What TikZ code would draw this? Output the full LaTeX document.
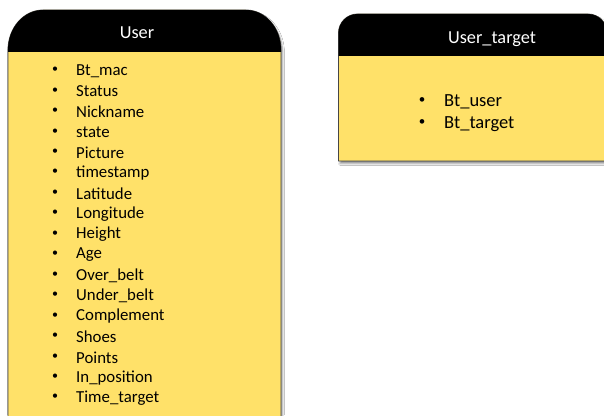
\documentclass[tikz,border=0pt]{standalone}
\usepackage{fontspec}
\setmainfont{Carlito}
\usetikzlibrary{shadows.blur}
\definecolor{notebody}{RGB}{255,225,105}
\definecolor{noteedge}{RGB}{70,70,70}
\tikzset{
  x=1pt, y=1pt,
  body/.style={fill=notebody, draw=noteedge, line width=0.8pt,
    blur shadow={shadow xshift=1.5pt, shadow yshift=-2.5pt, shadow opacity=45, shadow blur steps=4}},
  header/.style={fill=black},
  title/.style={text=white, inner sep=0pt, font=\fontsize{18.3}{22}\selectfont},
  bulletmark/.style={inner sep=0pt, font=\fontsize{12}{14}\selectfont},
  field/.style={anchor=west, inner sep=0pt, font=\fontsize{16.8}{20}\selectfont},
  bigbulletmark/.style={inner sep=0pt, font=\fontsize{13}{15}\selectfont},
  bigfield/.style={anchor=west, inner sep=0pt, font=\fontsize{18.5}{22}\selectfont},
}
\begin{document}
\begin{tikzpicture}
\useasboundingbox (0,0) rectangle (604,415);
\clip (0,0) rectangle (604,415);
\fill[white] (0,0) rectangle (604,415);

% ---- User table ----
\path[body] (8,-20) -- (8,365)
  arc[start angle=180, end angle=90, x radius=35, y radius=40] -- (246,405)
  arc[start angle=90, end angle=0, x radius=35, y radius=40] -- (281,-20) -- cycle;
\fill[header] (8,363) -- (8,365)
  arc[start angle=180, end angle=90, x radius=35, y radius=40] -- (246,405)
  arc[start angle=90, end angle=0, x radius=35, y radius=40] -- (281,363) -- cycle;
\node[title] (usertitle) at (137,382) {User};

\foreach \name [count=\i from 0] in {Bt\_mac, Status, Nickname, state, Picture,
    timestamp, Latitude, Longitude, Height, Age, Over\_belt, Under\_belt,
    Complement, Shoes, Points, In\_position, Time\_target} {
  \node[bulletmark] (ub\i) at (55,{345-20.45*\i}) {•};
  \node[field] (uf\i) at (76,{344-20.45*\i}) {\name};
}

% ---- User_target table ----
\path[body] (338.5,254) -- (338.5,382)
  arc[start angle=180, end angle=90, radius=19] -- (588,401)
  arc[start angle=90, end angle=0, radius=19] -- (607,254) -- cycle;
\fill[header] (338.5,359) -- (338.5,382)
  arc[start angle=180, end angle=90, radius=19] -- (588,401)
  arc[start angle=90, end angle=0, radius=19] -- (607,359) -- cycle;
\node[title] (targettitle) at (492,376) {User\_target};

\node[bigbulletmark] (tb0) at (422,314) {•};
\node[bigfield] (tf0) at (444,313) {Bt\_user};
\node[bigbulletmark] (tb1) at (422,292) {•};
\node[bigfield] (tf1) at (444,291) {Bt\_target};
\end{tikzpicture}
\end{document}
